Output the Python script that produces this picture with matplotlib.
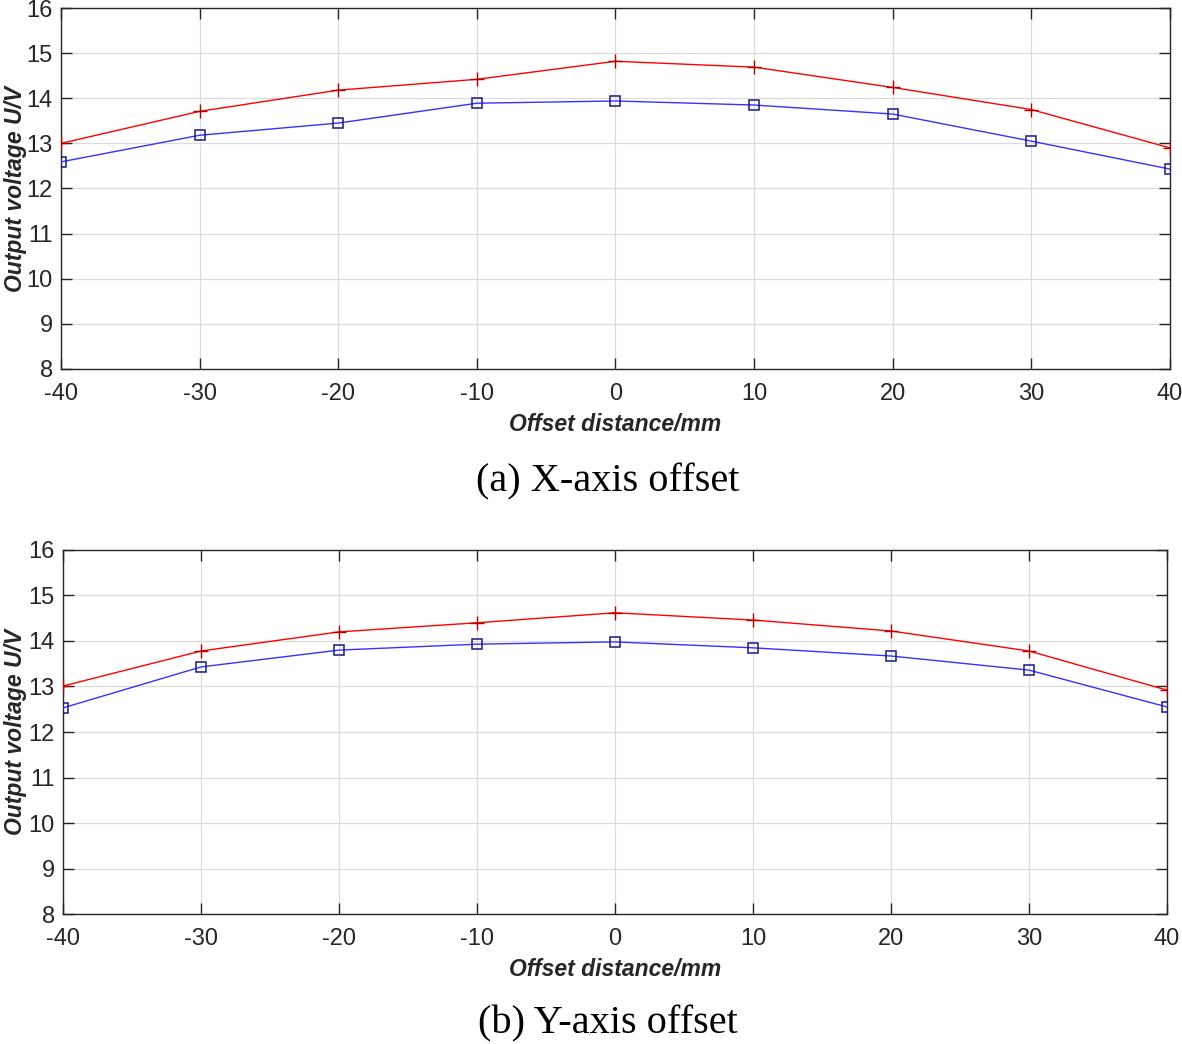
import numpy as np
import matplotlib
matplotlib.use("Agg")
import matplotlib.pyplot as plt
from matplotlib.transforms import blended_transform_factory

# ---------------------------------------------------------------------------- #
#                                     DATA                                     #
# ---------------------------------------------------------------------------- #
offset_mm = [-40, -30, -20, -10, 0, 10, 20, 30, 40]

# (a) X-axis offset
x_red = [13.00, 13.71, 14.18, 14.42, 14.82, 14.69, 14.24, 13.75, 12.90]
x_blue = [12.59, 13.18, 13.45, 13.89, 13.94, 13.85, 13.65, 13.05, 12.43]

# (b) Y-axis offset
y_red = [13.01, 13.78, 14.20, 14.40, 14.62, 14.46, 14.22, 13.78, 12.92]
y_blue = [12.53, 13.43, 13.80, 13.93, 13.98, 13.85, 13.67, 13.36, 12.55]

captions = ["(a) X-axis offset", "(b) Y-axis offset"]
x_ticks = [-40, -30, -20, -10, 0, 10, 20, 30, 40]
y_ticks = [8, 9, 10, 11, 12, 13, 14, 15, 16]

AX_COLOR = "#262626"
GRID_COLOR = "#dcdcdc"

plt.rcParams["font.family"] = ["Liberation Sans", "DejaVu Sans"]
plt.rcParams["axes.unicode_minus"] = False


def draw_panel(fig, ax, red, blue):
    ax.plot(offset_mm, red, color="red", lw=1.0, marker="+", ms=10,
            mew=1.0, mec="#b00000", zorder=3)
    ax.plot(offset_mm, blue, color="#3333ff", lw=1.0, marker="s", ms=7,
            mfc="none", mew=1.1, mec="#1a1a80", zorder=3)
    ax.set_xlim(-40, 40)
    ax.set_ylim(8, 16)
    ax.set_xticks(x_ticks)
    ax.set_yticks(y_ticks)
    ax.grid(True, color=GRID_COLOR, lw=0.9)
    ax.set_axisbelow(True)
    ax.tick_params(direction="in", length=8, width=1.0, colors=AX_COLOR,
                   labelsize=17, top=True, right=True)
    ax.tick_params(axis="x", pad=10)
    ax.tick_params(axis="y", pad=6)
    for s in ax.spines.values():
        s.set_color(AX_COLOR)
        s.set_linewidth(1.0)
    ax.set_xlabel("Offset distance/mm", fontsize=16.5, fontweight="bold",
                  fontstyle="italic", color=AX_COLOR, labelpad=6)
    ax.set_ylabel("Output voltage U/V", fontsize=16.5, fontweight="bold",
                  fontstyle="italic", color=AX_COLOR)
    # keep the y label inside the figure, as in the reference
    trans = blended_transform_factory(fig.transFigure, ax.transAxes)
    ax.yaxis.set_label_coords(0.0035, 0.5, transform=trans)
    ax.yaxis.label.set_verticalalignment("top")


def main():
    fig = plt.figure(figsize=(11.82, 10.44), dpi=100)

    ax_a = fig.add_axes([0.0516, 0.6466, 0.9382, 0.3457])
    ax_b = fig.add_axes([0.0533, 0.1245, 0.9340, 0.3487])

    draw_panel(fig, ax_a, x_red, x_blue)
    draw_panel(fig, ax_b, y_red, y_blue)

    fig.text(0.514, 0.538, captions[0], ha="center", va="center",
             fontsize=29, family="Liberation Serif", color="black")
    fig.text(0.514, 0.019, captions[1], ha="center", va="center",
             fontsize=29, family="Liberation Serif", color="black")

    fig.savefig("out.png", dpi=100, facecolor="white")


if __name__ == "__main__":
    main()
